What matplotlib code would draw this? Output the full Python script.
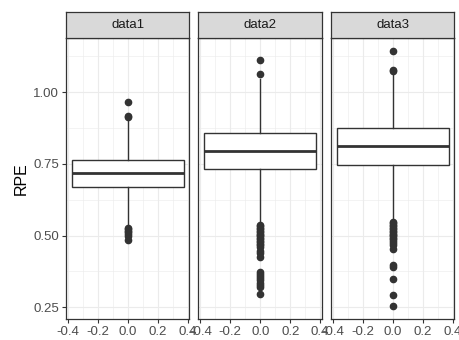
import matplotlib
matplotlib.use("Agg")
import matplotlib.pyplot as plt
from matplotlib.ticker import MultipleLocator

plt.rcParams['font.family'] = ['Liberation Sans', 'DejaVu Sans']
plt.rcParams['axes.unicode_minus'] = False

# box statistics
panels = ["data1", "data2", "data3"]
q1 = [0.670, 0.731, 0.747]
med = [0.717, 0.796, 0.812]
q3 = [0.762, 0.858, 0.876]
whislo = [0.535, 0.545, 0.555]
whishi = [0.905, 1.045, 1.065]
fliers = [
    [0.966, 0.918, 0.912, 0.527, 0.522, 0.517, 0.512, 0.505, 0.498, 0.484],
    [1.111, 1.063, 0.537, 0.532, 0.527, 0.522, 0.517, 0.512, 0.507, 0.502,
     0.497, 0.492, 0.487, 0.482, 0.477, 0.472, 0.467, 0.462, 0.447, 0.440,
     0.425, 0.372, 0.366, 0.360, 0.352, 0.345, 0.336, 0.327, 0.320, 0.296],
    [1.144, 1.077, 1.072, 0.548, 0.543, 0.537, 0.532, 0.527, 0.522, 0.517,
     0.512, 0.507, 0.502, 0.497, 0.492, 0.487, 0.482, 0.475, 0.468, 0.455,
     0.399, 0.392, 0.349, 0.293, 0.254],
]

fig = plt.figure(figsize=(4.6, 3.4), dpi=100)
W, H = 460, 340
lefts = [66, 198.5, 331]
pw = 123.5
top, bottom, strip_top = 38, 319, 12
dark = "#333333"

for i, name in enumerate(panels):
    ax = fig.add_axes([lefts[i] / W, (H - bottom) / H, pw / W, (bottom - top) / H])
    stats = [dict(med=med[i], q1=q1[i], q3=q3[i], whislo=whislo[i],
                  whishi=whishi[i], fliers=fliers[i])]
    ax.bxp(stats, positions=[0], widths=0.75, showcaps=False, patch_artist=True,
           boxprops=dict(facecolor="white", edgecolor=dark, linewidth=1.0),
           medianprops=dict(color=dark, linewidth=2.0),
           whiskerprops=dict(color=dark, linewidth=1.0),
           flierprops=dict(marker="o", markerfacecolor=dark, markeredgecolor=dark,
                           markersize=4.5, linestyle="none"))
    ax.set_xlim(-0.4125, 0.4125)
    ax.set_ylim(0.2095, 1.1885)
    ax.xaxis.set_major_locator(MultipleLocator(0.2))
    ax.xaxis.set_minor_locator(MultipleLocator(0.1))
    ax.yaxis.set_major_locator(MultipleLocator(0.25))
    ax.yaxis.set_minor_locator(MultipleLocator(0.125))
    ax.set_xticks([-0.4, -0.2, 0.0, 0.2, 0.4])
    ax.set_xticklabels(["-0.4", "-0.2", "0.0", "0.2", "0.4"])
    ax.grid(which="major", color="#EBEBEB", linewidth=0.8)
    ax.grid(which="minor", color="#EBEBEB", linewidth=0.4)
    ax.set_axisbelow(True)
    ax.tick_params(which="major", length=3, width=0.8, color=dark,
                   labelsize=9.5, labelcolor="#4D4D4D", pad=2)
    ax.tick_params(which="minor", length=0)
    for s in ax.spines.values():
        s.set_color(dark)
        s.set_linewidth(0.9)
    if i == 0:
        ax.set_yticks([0.25, 0.5, 0.75, 1.0])
        ax.set_yticklabels(["0.25", "0.50", "0.75", "1.00"])
        ax.set_ylabel("RPE", fontsize=11.5, labelpad=3)
    else:
        ax.tick_params(axis="y", which="both", left=False, labelleft=False)

    # facet strip
    sax = fig.add_axes([lefts[i] / W, (H - top) / H, pw / W, (top - strip_top) / H])
    sax.set_facecolor("#D9D9D9")
    sax.set_xticks([])
    sax.set_yticks([])
    for s in sax.spines.values():
        s.set_color(dark)
        s.set_linewidth(0.9)
    sax.text(0.5, 0.5, name, ha="center", va="center", fontsize=9.5,
             color="#1A1A1A", transform=sax.transAxes)

fig.savefig("out.png", dpi=100)
